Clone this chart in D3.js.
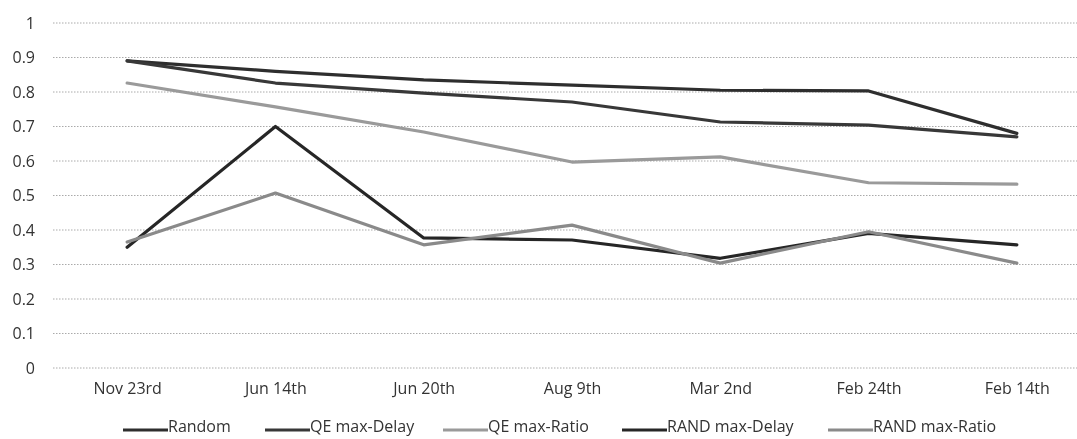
<!DOCTYPE html>
<html>
<head>
<meta charset="utf-8">
<script src="https://cdn.jsdelivr.net/npm/d3@7"></script>
<style>
  html, body { margin: 0; padding: 0; background: #fff; }
  svg { display: block; filter: blur(0.35px); }
  text { font-family: "Open Sans", Lato, sans-serif; fill: #333; }
</style>
</head>
<body>
<svg id="chart" width="1077" height="439"></svg>
<script>
// Measurement dates along the x axis
const categories = ["Nov 23rd", "Jun 14th", "Jun 20th", "Aug 9th", "Mar 2nd", "Feb 24th", "Feb 14th"];

// Series values per date
const random      = [0.89, 0.86, 0.835, 0.82, 0.805, 0.803, 0.68];
const qeMaxDelay  = [0.89, 0.826, 0.797, 0.771, 0.713, 0.704, 0.67];
const qeMaxRatio  = [0.826, 0.757, 0.684, 0.597, 0.612, 0.537, 0.533];
const randMaxDelay = [0.35, 0.70, 0.377, 0.371, 0.318, 0.39, 0.357];
const randMaxRatio = [0.365, 0.507, 0.357, 0.414, 0.304, 0.395, 0.304];

const seriesNames = ["Random", "QE max-Delay", "QE max-Ratio", "RAND max-Delay", "RAND max-Ratio"];
const yTicks = [0, 0.1, 0.2, 0.3, 0.4, 0.5, 0.6, 0.7, 0.8, 0.9, 1];

const series = [
  { name: seriesNames[0], values: random,       color: "#2e2e2e" },
  { name: seriesNames[1], values: qeMaxDelay,   color: "#383838" },
  { name: seriesNames[2], values: qeMaxRatio,   color: "#9a9a9a" },
  { name: seriesNames[3], values: randMaxDelay, color: "#262626" },
  { name: seriesNames[4], values: randMaxRatio, color: "#8a8a8a" }
];

const svg = d3.select("#chart");
const plot = { left: 53, right: 1091, top: 23, bottom: 368 };

const x = d3.scalePoint()
  .domain(categories)
  .range([plot.left, plot.right])
  .padding(0.5);

const y = d3.scaleLinear()
  .domain([0, 1])
  .range([plot.bottom, plot.top]);

// Horizontal dotted gridlines
svg.append("g")
  .selectAll("line")
  .data(yTicks)
  .join("line")
  .attr("x1", plot.left)
  .attr("x2", plot.right)
  .attr("y1", d => y(d))
  .attr("y2", d => y(d))
  .attr("stroke", "#aaaaaa")
  .attr("stroke-width", 1)
  .attr("stroke-dasharray", "1.5,1.5");

// Y axis labels
const yAxis = d3.axisLeft(y)
  .tickValues(yTicks)
  .tickFormat(d => d3.format("~g")(d))
  .tickSize(0)
  .tickPadding(0);
const gy = svg.append("g")
  .attr("transform", `translate(${plot.left - 18},0)`)
  .call(yAxis);
gy.select(".domain").remove();
gy.selectAll("text")
  .attr("font-size", 16)
  .style("font-family", "'Open Sans', Lato, sans-serif")
  .attr("fill", "#333");

// X axis labels
const xAxis = d3.axisBottom(x).tickSize(0).tickPadding(0);
const gx = svg.append("g")
  .attr("transform", `translate(0,${plot.bottom + 15})`)
  .call(xAxis);
gx.select(".domain").remove();
gx.selectAll("text")
  .attr("font-size", 16)
  .style("font-family", "'Open Sans', Lato, sans-serif")
  .attr("fill", "#333");

// Series lines
const line = d3.line()
  .x((d, i) => x(categories[i]))
  .y(d => y(d));

svg.append("g")
  .selectAll("path")
  .data(series)
  .join("path")
  .attr("d", d => line(d.values))
  .attr("fill", "none")
  .attr("stroke", d => d.color)
  .attr("stroke-width", 3.2)
  .attr("stroke-linejoin", "round")
  .attr("stroke-linecap", "round");

// Legend
const legendX = [123, 265, 443, 622, 828];
const legend = svg.append("g")
  .selectAll("g")
  .data(series)
  .join("g")
  .attr("transform", (d, i) => `translate(${legendX[i]},430)`);
legend.append("line")
  .attr("x1", 0).attr("x2", 45)
  .attr("y1", 0).attr("y2", 0)
  .attr("stroke", d => d.color)
  .attr("stroke-width", 3.2);
legend.append("text")
  .attr("x", 45)
  .attr("y", 0)
  .attr("dy", "0.1em")
  .attr("font-size", 16)
  .text(d => d.name);
</script>
</body>
</html>
